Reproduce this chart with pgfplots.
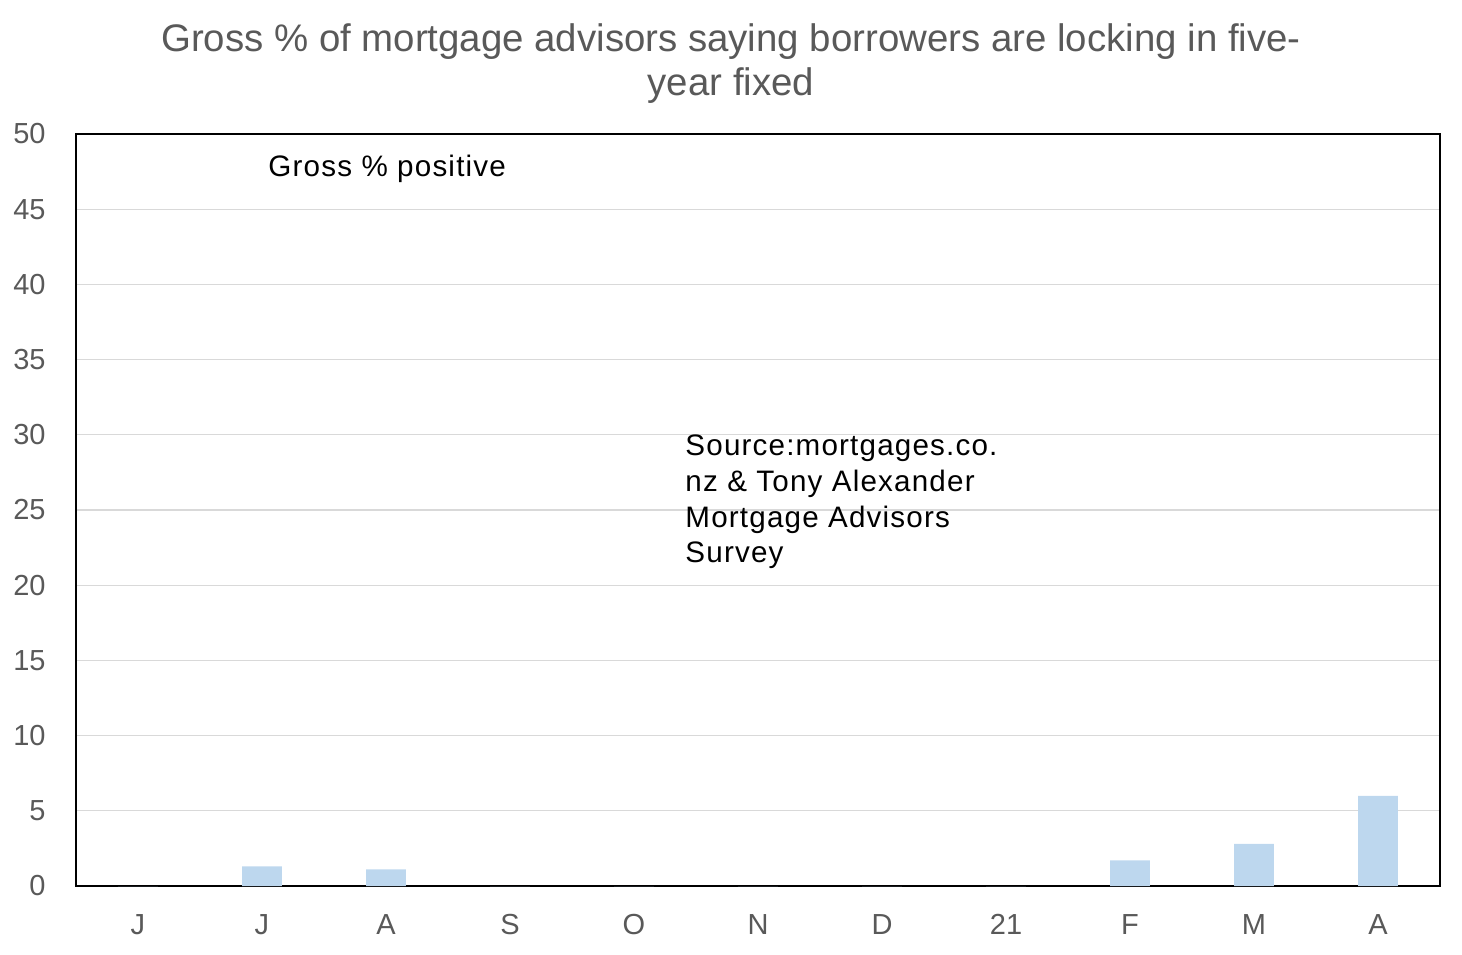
\documentclass[border=0pt]{standalone}
\usepackage{fontspec}
\setmainfont{Liberation Sans}
\usepackage{pgfplots}
\pgfplotsset{compat=1.18}
\definecolor{barblue}{HTML}{BDD7EE}
\definecolor{txtgray}{HTML}{595959}
\definecolor{gridgray}{HTML}{D9D9D9}
\newcommand{\inner}{\fontsize{14.8pt}{17pt}\selectfont\addfontfeature{LetterSpace=4}}
\begin{document}
\begin{tikzpicture}
\begin{axis}[
  name=ax,
  scale only axis,
  width=682pt, height=376pt,
  xmin=-0.5, xmax=10.5,
  ymin=0, ymax=50,
  ytick={0,5,...,50},
  xtick={0,...,10},
  xticklabels={J,J,A,S,O,N,D,21,F,M,A},
  tick style={draw=none},
  ymajorgrids,
  grid style={gridgray, line width=0.6pt},
  axis line style={black, line width=1pt},
  /pgf/number format/assume math mode=true,
  tick label style={font=\fontsize{14.5pt}{17pt}\selectfont, text=txtgray, inner sep=0pt},
  yticklabel style={anchor=east, xshift=-15pt},
  xticklabel style={anchor=base, yshift=-20pt},
  ybar, bar width=0.32,
  axis on top=false,
]
\addplot[fill=barblue, draw=none] coordinates {
 (0,0) (1,1.3) (2,1.1) (3,0) (4,0) (5,0) (6,0) (7,0) (8,1.7) (9,2.8) (10,6.0)};
\node[anchor=base west, inner sep=0pt, font=\inner] at (rel axis cs:0.1408,0.943) {Gross \% positive};
\node[anchor=base west, inner sep=0pt, font=\inner] at (rel axis cs:0.4465,0.573) {Source:mortgages.co.};
\node[anchor=base west, inner sep=0pt, font=\inner] at (rel axis cs:0.4465,0.5245) {nz \& Tony Alexander};
\node[anchor=base west, inner sep=0pt, font=\inner] at (rel axis cs:0.4465,0.4767) {Mortgage Advisors};
\node[anchor=base west, inner sep=0pt, font=\inner] at (rel axis cs:0.4465,0.4302) {Survey};
\end{axis}
\node[anchor=base, inner sep=0pt, text=txtgray, font=\fontsize{19.2pt}{22pt}\selectfont] at ([xshift=-13.5pt, yshift=41pt]ax.north) {Gross \% of mortgage advisors saying borrowers are locking in five-};
\node[anchor=base, inner sep=0pt, text=txtgray, font=\fontsize{19.2pt}{22pt}\selectfont] at ([xshift=-13.5pt, yshift=19pt]ax.north) {year fixed};
\pgfresetboundingbox
\path[use as bounding box] ([xshift=-38pt, yshift=-34pt]ax.south west) rectangle ([xshift=11pt, yshift=67pt]ax.north east);
\end{tikzpicture}
\end{document}
